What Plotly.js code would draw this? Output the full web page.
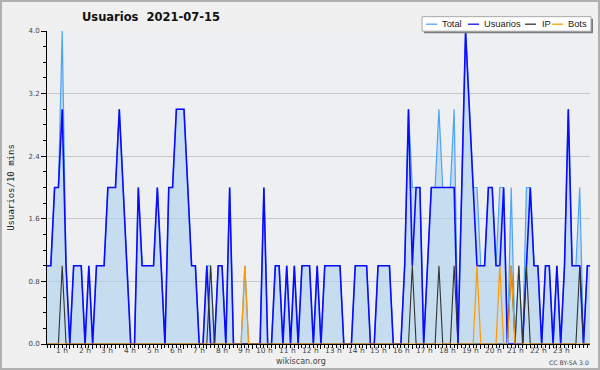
<!DOCTYPE html>
<html>
<head>
<meta charset="utf-8">
<script src="https://cdn.plot.ly/plotly-3.0.1.min.js"></script>
<style>
  html, body { margin: 0; padding: 0; background: #f0f0f0; }
  #wrap { position: relative; width: 600px; height: 370px; }
  #chart { width: 600px; height: 370px; }
  #frame { position: absolute; left: 0; top: 0; width: 600px; height: 370px;
           box-sizing: border-box; border: 2px solid #b0b0b0; pointer-events: none; }
</style>
</head>
<body>
<div id="wrap"><div id="chart"></div><div id="frame"></div></div>
<script>
// ---- data: one value per 10-minute slot, 2021-07-15 ----
const usuarios = [
  1,1,2,2,3,1,0,1,1,1,
  0,1,0,1,1,1,2,2,2,3,
  2,1,0,0,2,1,1,1,1,2,
  1,0,2,2,3,3,3,2,1,1,
  0,0,1,0,0,1,1,0,2,0,
  0,0,0,0,0,0,0,2,0,0,
  1,1,0,1,0,1,0,1,1,1,
  0,1,0,1,1,1,1,1,0,0,
  0,1,1,1,1,0,0,1,1,1,
  1,0,0,0,1,3,1,2,2,0,
  1,2,2,2,2,2,2,2,0,2,
  4,3,2,1,1,1,2,2,1,1,
  2,0,0,0,0,0,1,2,1,1,
  0,1,1,0,1,0,1,3,1,1,
  1,0,1,1
];
const total = [
  1,1,2,2,4,1,0,1,1,1,
  0,1,0,1,1,1,2,2,2,3,
  2,1,0,0,2,1,1,1,1,2,
  1,0,2,2,3,3,3,2,1,1,
  0,0,1,1,0,1,1,0,2,0,
  0,0,1,0,0,0,0,2,0,0,
  1,1,0,1,0,1,0,1,1,1,
  0,1,0,1,1,1,1,1,0,0,
  0,1,1,1,1,0,0,1,1,1,
  1,0,0,0,1,3,2,2,2,0,
  1,2,2,3,2,2,2,3,0,2,
  4,3,2,2,1,1,2,2,1,2,
  2,0,2,0,1,0,2,2,1,1,
  0,1,1,0,1,0,1,3,1,1,
  2,0,1,1
];
const ip = [
  0,0,0,0,1,0,0,0,0,0,
  0,0,0,0,0,0,0,0,0,0,
  0,0,0,0,0,0,0,0,0,0,
  0,0,0,0,0,0,0,0,0,0,
  0,0,0,1,0,0,0,0,0,0,
  0,0,0,0,0,0,0,0,0,0,
  0,0,0,0,0,0,0,0,0,0,
  0,0,0,0,0,0,0,0,0,0,
  0,0,0,0,0,0,0,0,0,0,
  0,0,0,0,0,0,1,0,0,0,
  0,0,0,1,0,0,0,1,0,0,
  0,0,0,0,0,0,0,0,0,0,
  0,0,1,0,1,0,1,0,0,0,
  0,0,0,0,0,0,0,0,0,0,
  1,0,0,0
];
const bots = [
  0,0,0,0,0,0,0,0,0,0,
  0,0,0,0,0,0,0,0,0,0,
  0,0,0,0,0,0,0,0,0,0,
  0,0,0,0,0,0,0,0,0,0,
  0,0,0,0,0,0,0,0,0,0,
  0,0,1,0,0,0,0,0,0,0,
  0,0,0,0,0,0,0,0,0,0,
  0,0,0,0,0,0,0,0,0,0,
  0,0,0,0,0,0,0,0,0,0,
  0,0,0,0,0,0,0,0,0,0,
  0,0,0,0,0,0,0,0,0,0,
  0,0,0,1,0,0,0,0,0,1,
  0,0,1,0,0,0,0,0,0,0,
  0,0,0,0,0,0,0,0,0,0,
  0,0,0,0
];
const hourLabels = ['1 h','2 h','3 h','4 h','5 h','6 h','7 h','8 h','9 h','10 h','11 h','12 h',
                    '13 h','14 h','15 h','16 h','17 h','18 h','19 h','20 h','21 h','22 h','23 h'];
const seriesNames = ['Total','Usuarios','IP','Bots'];
const seriesColors = ['#4da3f5','#0b0bff','#333333','#ff9900'];

// ---- layout helpers (pixel geometry of the plot area) ----
const L = 46.7, R = 590, T = 31.3, B = 344;
const px = x => (x - L) / (R - L);
const py = y => (B - y) / (B - T);

const slots = usuarios.map((_, i) => i);          // 10-minute slot index
const hourTicks = hourLabels.map((_, k) => (k + 1) * 6);

const traces = [
  { x: slots, y: total, name: seriesNames[0], type: 'scatter', mode: 'lines',
    line: { color: seriesColors[0], width: 1.2 }, fill: 'tozeroy',
    fillcolor: 'rgba(171,209,240,0.6)' },
  { x: slots, y: usuarios, name: seriesNames[1], type: 'scatter', mode: 'lines',
    line: { color: seriesColors[1], width: 1.6 } },
  { x: slots, y: ip, name: seriesNames[2], type: 'scatter', mode: 'lines',
    line: { color: seriesColors[2], width: 1.1 } },
  { x: slots, y: bots, name: seriesNames[3], type: 'scatter', mode: 'lines',
    line: { color: seriesColors[3], width: 1.2 } }
];

// legend drawn as a boxed row of line samples + real text
const legendSampleX = [426, 468, 525, 552];
const legendTextX = [441, 483, 541, 567];
const legendY = 24.5;
const shapes = [
  { type: 'rect', xref: 'paper', yref: 'paper', x0: px(424), x1: px(593), y0: py(33.5), y1: py(19),
    fillcolor: '#7c7c7c', line: { width: 0 } },
  { type: 'rect', xref: 'paper', yref: 'paper', x0: px(422), x1: px(591), y0: py(31.5), y1: py(17),
    fillcolor: '#ffffff', line: { color: '#a8a8a8', width: 1 } }
];
const annotations = [];
seriesNames.forEach((name, k) => {
  shapes.push({ type: 'line', xref: 'paper', yref: 'paper',
    x0: px(legendSampleX[k]), x1: px(legendSampleX[k] + 11), y0: py(legendY), y1: py(legendY),
    line: { color: seriesColors[k], width: 1.3 } });
  annotations.push({ xref: 'paper', yref: 'paper', x: px(legendTextX[k]), y: py(legendY),
    xanchor: 'left', yanchor: 'middle', showarrow: false, text: name, borderpad: 0,
    font: { family: 'Liberation Sans', size: 9.3, color: '#222' } });
});
// hour labels, right-aligned against their hour tick
hourLabels.forEach((lab, k) => {
  annotations.push({ xref: 'x', yref: 'paper', x: hourTicks[k], y: py(350.5), xshift: -1,
    xanchor: 'right', yanchor: 'middle', showarrow: false, text: lab, borderpad: 0,
    font: { family: 'DejaVu Sans', size: 7.5, color: '#444' } });
});
annotations.push({ xref: 'paper', yref: 'paper', x: px(300.5), y: py(361), xanchor: 'center',
  yanchor: 'middle', showarrow: false, text: 'wikiscan.org',
  font: { family: 'DejaVu Sans', size: 8, color: '#444' } });
annotations.push({ xref: 'paper', yref: 'paper', x: px(590), y: py(362.5), xanchor: 'right',
  yanchor: 'middle', showarrow: false, text: 'CC BY-SA 3.0', borderpad: 0,
  font: { family: 'DejaVu Sans', size: 6.2, color: '#444' } });

const layout = {
  width: 600, height: 370,
  margin: { l: L, r: 600 - R, t: T, b: 370 - B, pad: 0 },
  paper_bgcolor: '#f0f0f0', plot_bgcolor: '#eeeff0',
  showlegend: false,
  title: { text: '<b>Usuarios\u00a0\u00a02021-07-15</b>', xref: 'container', yref: 'container',
    x: 151 / 600, xanchor: 'center', y: 1 - 17 / 370, yanchor: 'middle',
    font: { family: 'DejaVu Sans', size: 11.5, color: '#111' } },
  xaxis: {
    range: [0, 142.7], showgrid: false, zeroline: false,
    showline: true, linecolor: '#000', linewidth: 1,
    tickmode: 'array', tickvals: hourTicks, ticktext: hourLabels, showticklabels: false,
    ticks: 'outside', ticklen: 4, tickcolor: '#000', tickwidth: 1,
    minor: { tickmode: 'linear', tick0: 0, dtick: 1, ticks: 'outside', ticklen: 3,
             tickcolor: '#000', showgrid: false },
    fixedrange: true
  },
  yaxis: {
    range: [0, 4], tick0: 0, dtick: 0.8, tickformat: '.1f',
    showgrid: true, gridcolor: '#c8c8c8', gridwidth: 1, zeroline: false,
    showline: true, linecolor: '#000', linewidth: 1,
    ticks: 'outside', ticklen: 5, tickcolor: '#000',
    tickfont: { family: 'DejaVu Sans', size: 7, color: '#444' },
    minor: { tick0: 0, dtick: 0.2, ticks: 'outside', ticklen: 3, tickcolor: '#000', showgrid: false },
    title: { text: 'Usuarios/10 mins', standoff: 12,
             font: { family: 'DejaVu Sans Mono', size: 9, color: '#222' } },
    fixedrange: true
  },
  shapes: shapes,
  annotations: annotations
};

Plotly.newPlot('chart', traces, layout, { staticPlot: true, displayModeBar: false });
</script>
</body>
</html>
